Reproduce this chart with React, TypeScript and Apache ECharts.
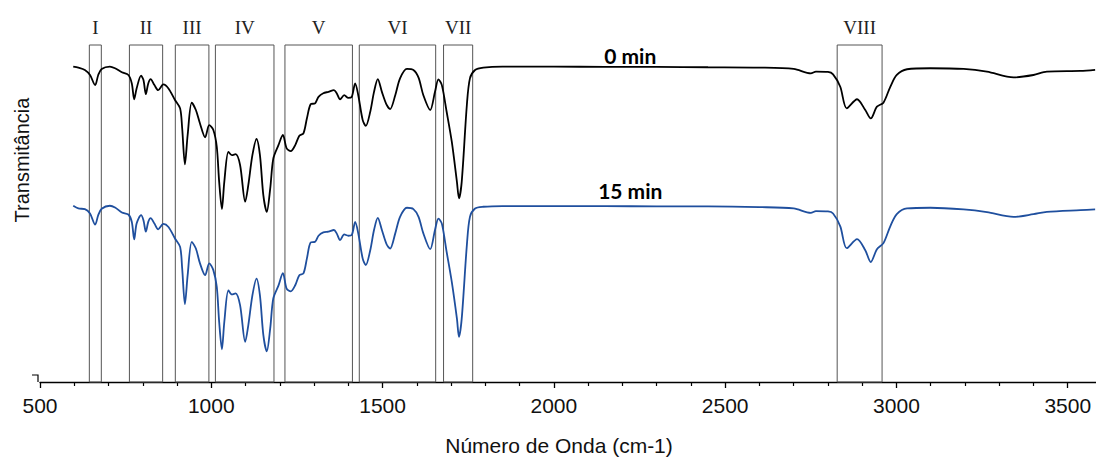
import React, { useEffect, useRef } from "react";
import * as echarts from "echarts";

// Wavenumbers (cm-1) shared by both spectra
const wavenumbers = [
  597, 612, 631, 646, 661, 670, 680, 704, 719, 739, 758, 768, 775, 782, 795, 802, 809, 816, 823, 834,
  845, 860, 875, 894, 909, 915, 923, 931, 943, 955, 967, 982, 994, 1006, 1016, 1023, 1031, 1038, 1050, 1060,
  1071, 1084, 1099, 1108, 1120, 1132, 1142, 1152, 1162, 1172, 1181, 1196, 1209, 1220, 1232, 1245, 1257, 1269, 1279, 1290,
  1303, 1313, 1327, 1342, 1358, 1366, 1376, 1388, 1400, 1410, 1420, 1429, 1442, 1451, 1464, 1475, 1486, 1498, 1512, 1522,
  1537, 1551, 1571, 1590, 1605, 1619, 1639, 1653, 1663, 1673, 1687, 1702, 1717, 1723, 1731, 1746, 1755, 1770, 1794, 1850,
  2000, 2150, 2300, 2450, 2600, 2700, 2750, 2765, 2800, 2815, 2836, 2855, 2885, 2909, 2925, 2943, 2962, 2982, 3001, 3031,
  3099, 3196, 3264, 3342, 3400, 3439, 3537, 3580,
];

// Transmittance (arbitrary, offset) at 0 min
const trans0min = [
  93.6, 93.3, 92.6, 91.1, 88.1, 91.1, 92.9, 93.6, 93.1, 91.9, 91.1, 88.6, 83.9, 87.1, 90.9, 89.6, 85.4, 88.6, 89.9, 88.1,
  86.6, 88.3, 87.1, 83.7, 81.2, 75.3, 64.6, 73.3, 82.9, 80.7, 76.7, 72.6, 76.2, 74.8, 69.8, 59.4, 51.3, 59.4, 68.3, 67.3,
  67.6, 64.4, 53.5, 58.4, 67.3, 72.1, 67.3, 55.4, 50.5, 57.4, 66.3, 70.3, 73.3, 69.3, 68.5, 70.3, 73.1, 73.8, 78.2, 82.4,
  82.7, 84.6, 85.7, 86.1, 86.6, 85.7, 83.9, 85.1, 84.3, 84.6, 88.6, 85.1, 77.7, 76.0, 80.2, 86.1, 89.9, 86.1, 82.2, 81.0,
  85.1, 90.1, 92.9, 92.6, 90.3, 85.1, 80.7, 86.1, 89.8, 88.1, 80.2, 71.3, 59.4, 54.5, 59.4, 82.2, 90.1, 92.6, 93.3, 93.6,
  93.6, 93.5, 93.5, 93.4, 93.3, 92.9, 91.6, 92.1, 92.0, 91.3, 87.6, 81.2, 83.9, 80.7, 78.2, 81.7, 82.9, 87.6, 91.1, 92.8,
  93.1, 92.9, 92.1, 90.4, 91.1, 92.1, 92.3, 92.6,
];

// Transmittance (arbitrary, offset) at 15 min
const trans15min = [
  52.3, 51.5, 51.3, 50.0, 46.7, 49.5, 51.4, 52.3, 51.8, 50.3, 49.7, 47.5, 42.3, 47.0, 49.5, 48.0, 44.6, 47.5, 48.6, 47.0,
  45.3, 46.9, 46.0, 42.6, 40.1, 33.7, 23.1, 31.7, 41.6, 39.6, 35.2, 31.7, 35.2, 33.2, 28.2, 17.8, 9.7, 17.8, 27.2, 26.0,
  26.3, 22.8, 11.9, 16.8, 25.7, 30.7, 25.7, 13.9, 9.1, 15.9, 24.8, 28.6, 32.3, 27.7, 26.9, 28.7, 31.7, 32.2, 36.6, 41.4,
  41.6, 43.4, 44.4, 44.6, 45.1, 44.1, 42.1, 43.8, 43.4, 43.6, 47.5, 44.1, 36.6, 34.7, 39.1, 45.1, 48.7, 45.1, 40.8, 39.6,
  44.1, 49.0, 51.7, 51.3, 49.0, 44.1, 39.4, 45.1, 48.5, 47.0, 38.6, 29.7, 18.8, 13.4, 18.8, 40.6, 49.0, 51.5, 52.0, 52.2,
  52.2, 52.2, 52.1, 52.1, 51.9, 51.5, 50.2, 50.7, 50.6, 50.0, 46.2, 39.7, 42.4, 39.1, 35.6, 39.4, 41.2, 46.2, 49.8, 51.5,
  51.7, 51.2, 50.4, 49.0, 49.8, 50.5, 51.0, 51.2,
];

// Spectral regions (cm-1)
const regionNames = ["I", "II", "III", "IV", "V", "VI", "VII", "VIII"];
const regionStart = [644, 761, 895, 1012, 1215, 1432, 1678, 2827];
const regionEnd = [679, 858, 993, 1183, 1412, 1655, 1763, 2958];

const xTickLabels = ["500", "1000", "1500", "2000", "2500", "3000", "3500"];

export default function App() {
  const ref = useRef<HTMLDivElement>(null);

  useEffect(() => {
    document.body.style.margin = "0";
    document.body.style.overflow = "hidden";
    if (!ref.current) return;
    const chart = echarts.init(ref.current, undefined, { renderer: "svg" });

    const data0 = wavenumbers.map((w, i) => [w, trans0min[i]]);
    const data15 = wavenumbers.map((w, i) => [w, trans15min[i]]);

    const areas = regionNames.map((n, i) => [
      { name: n, xAxis: regionStart[i], yAxis: 100 },
      { xAxis: regionEnd[i], yAxis: 0 },
    ]);

    chart.setOption({
      animation: false,
      backgroundColor: "#ffffff",
      grid: { left: 40, width: 1062, top: 45, height: 337, outerBoundsMode: "none", containLabel: false },
      xAxis: {
        type: "value",
        min: 500,
        max: 3600,
        interval: 500,
        name: "Número de Onda (cm-1)",
        nameLocation: "middle",
        nameGap: 53,
        nameTextStyle: { fontFamily: "Liberation Sans", fontSize: 21, color: "#111", padding: [0, 24, 0, 0] },
        axisLine: { show: true, lineStyle: { color: "#000", width: 1.3 } },
        axisTick: { show: true, length: 6, lineStyle: { color: "#000", width: 1.3 } },
        minorTick: { show: true, splitNumber: 5, length: 4, lineStyle: { color: "#000", width: 1.2 } },
        splitLine: { show: false },
        axisLabel: {
          margin: 13,
          fontFamily: "Liberation Sans",
          fontSize: 21,
          color: "#111",
          formatter: (v: number) => (xTickLabels.includes(String(v)) ? String(v) : ""),
        },
      },
      yAxis: {
        type: "value",
        min: 0,
        max: 100,
        show: true,
        axisLine: { show: false },
        axisTick: { show: false },
        axisLabel: { show: false },
        splitLine: { show: false },
      },
      graphic: [
        {
          type: "text",
          x: 22,
          y: 160,
          rotation: Math.PI / 2,
          style: {
            text: "Transmitância",
            fontFamily: "Liberation Sans",
            fontSize: 20,
            fill: "#111",
            align: "center",
            verticalAlign: "middle",
          },
        },
        {
          type: "polyline",
          shape: { points: [[32, 375], [38, 375], [38, 382]] },
          style: { stroke: "#000", lineWidth: 1.2, fill: "none" },
        },
      ],
      series: [
        {
          type: "line",
          name: "0 min",
          data: data0,
          smooth: 0.3,
          showSymbol: false,
          lineStyle: { color: "#000000", width: 1.8 },
          z: 3,
          markArea: {
            silent: true,
            itemStyle: { color: "rgba(0,0,0,0)", borderColor: "#555", borderWidth: 1 },
            label: {
              show: true,
              position: "top",
              distance: 8,
              fontFamily: "Liberation Serif",
              fontSize: 19,
              color: "#222",
            },
            data: areas,
          },
          markPoint: {
            silent: true,
            symbol: "circle",
            symbolSize: 0,
            label: {
              show: true,
              position: "inside",
              formatter: "0 min",
              fontFamily: "Lato",
              fontWeight: "bold",
              fontSize: 21,
              color: "#000",
            },
            data: [{ coord: [2223, 97.0] }],
          },
        },
        {
          type: "line",
          name: "15 min",
          data: data15,
          smooth: 0.3,
          showSymbol: false,
          lineStyle: { color: "#1f4f9e", width: 1.8 },
          z: 3,
          markPoint: {
            silent: true,
            symbol: "circle",
            symbolSize: 0,
            label: {
              show: true,
              position: "inside",
              formatter: "15 min",
              fontFamily: "Lato",
              fontWeight: "bold",
              fontSize: 21,
              color: "#000",
            },
            data: [{ coord: [2223, 56.9] }],
          },
        },
      ],
    });

    return () => chart.dispose();
  }, []);

  return <div ref={ref} style={{ width: 1096, height: 459 }} />;
}
